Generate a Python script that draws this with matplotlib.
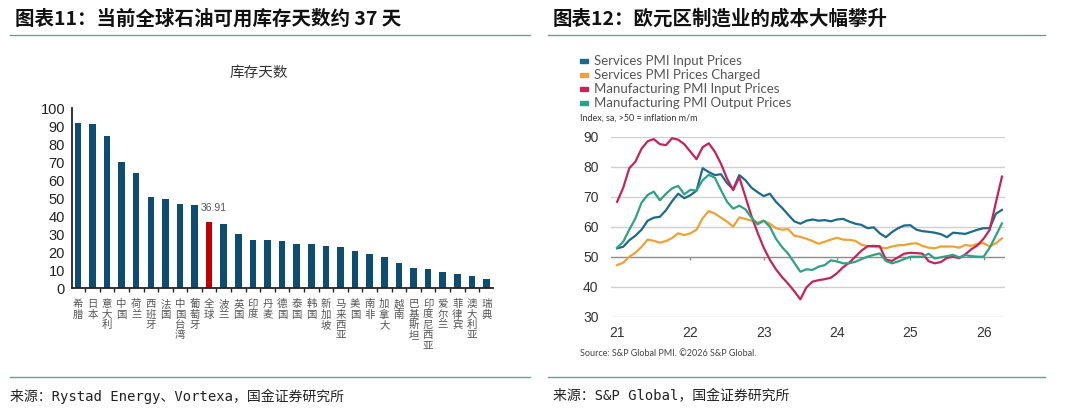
import matplotlib.pyplot as plt
import numpy as np
from matplotlib.lines import Line2D
from matplotlib.patches import Rectangle

plt.rcParams['font.family'] = ['Noto Sans CJK SC', 'DejaVu Sans']

# ---- left: oil stock days ----
countries = ["希腊", "日本", "意大利", "中国", "荷兰", "西班牙", "法国", "中国台湾", "葡萄牙",
             "全球", "波兰", "英国", "印度", "丹麦", "德国", "泰国", "韩国", "新加坡",
             "马来西亚", "美国", "南非", "加拿大", "越南", "巴基斯坦", "印度尼西亚",
             "爱尔兰", "菲律宾", "澳大利亚", "瑞典"]
days = [91.5, 91.0, 84.2, 70.2, 64.0, 50.5, 49.6, 46.4, 46.2,
        36.91, 35.8, 30.0, 26.8, 26.6, 26.3, 24.6, 24.2, 23.3,
        22.9, 20.7, 18.9, 17.2, 14.1, 10.9, 10.7, 8.9, 7.6, 6.9, 4.8]
highlight = "全球"

# ---- right: euro area PMI prices, monthly from Jan 2021 ----
series_names = ["Services PMI Input Prices", "Services PMI Prices Charged",
                "Manufacturing PMI Input Prices", "Manufacturing PMI Output Prices"]
svc_input = [52.8, 53.3, 55.5, 57.0, 59.0, 62.0, 63.0, 63.3, 65.5, 68.5, 71.0, 69.5,
             70.5, 72.0, 79.5, 78.2, 77.2, 77.5, 74.5, 72.5, 77.2, 75.5, 73.0, 71.5,
             70.2, 71.0, 68.3, 66.3, 64.0, 61.8, 61.0, 62.0, 62.4, 62.0, 62.2, 61.8,
             62.4, 62.6, 61.7, 61.0, 60.6, 59.5, 59.8, 57.8, 56.5, 58.2, 59.5, 60.4,
             60.5, 59.0, 58.5, 58.3, 58.0, 57.5, 56.5, 58.0, 57.8, 57.6, 58.3, 59.0,
             59.5, 59.5, 64.3, 65.6]
svc_charged = [47.2, 48.0, 50.0, 51.3, 53.3, 55.7, 55.3, 54.7, 55.2, 56.2, 57.8, 57.2,
               57.8, 59.0, 62.8, 65.2, 64.4, 63.0, 61.7, 60.0, 63.1, 62.6, 62.0, 61.4,
               62.0, 61.0, 59.5, 59.0, 59.2, 57.0, 56.6, 56.0, 55.2, 54.3, 55.0, 55.7,
               56.3, 55.7, 55.6, 55.3, 54.0, 53.5, 53.3, 53.1, 52.8, 53.4, 53.8, 53.9,
               54.3, 54.5, 53.6, 53.0, 52.8, 53.4, 53.4, 53.4, 53.0, 53.9, 53.6, 54.3,
               54.5, 53.4, 54.5, 56.1]
mfg_input = [68.3, 73.0, 79.5, 81.7, 86.0, 88.5, 89.2, 87.5, 87.2, 89.5, 89.0, 87.5,
             85.0, 82.5, 86.5, 87.8, 85.0, 81.0, 76.0, 72.2, 76.5, 70.0, 63.5, 58.0,
             53.0, 49.0, 45.8, 43.2, 41.0, 38.5, 35.8, 39.8, 41.7, 42.2, 42.5, 43.0,
             44.5, 46.5, 48.0, 50.0, 52.0, 53.5, 53.6, 53.5, 49.0, 48.6, 49.8, 51.0,
             51.3, 51.2, 51.0, 48.5, 47.8, 48.2, 49.6, 50.0, 49.5, 50.8, 52.5, 53.8,
             56.0, 59.0, 68.0, 76.7]
mfg_output = [53.0, 55.0, 59.0, 62.8, 68.0, 70.6, 71.7, 68.8, 71.0, 72.8, 73.6, 70.8,
              72.3, 72.0, 75.5, 77.3, 76.3, 72.2, 68.3, 66.0, 67.0, 65.8, 63.0, 60.8,
              62.0, 60.0, 56.0, 53.2, 51.0, 48.0, 45.0, 45.8, 45.6, 46.7, 47.2, 48.8,
              48.4, 47.8, 47.8, 48.3, 49.2, 50.0, 50.6, 51.1, 48.6, 47.8, 48.4, 49.2,
              50.0, 50.0, 50.0, 51.0, 49.4, 49.8, 50.2, 50.6, 49.8, 50.5, 50.2, 50.0,
              50.0, 53.0, 57.0, 61.1]
year_labels = ["21", "22", "23", "24", "25", "26"]

W, H = 1080, 409
fig = plt.figure(figsize=(W / 100, H / 100), dpi=100)


def fx(px):
    return px / W


def fy(py):
    return 1 - py / H


rule = '#7d9595'
num_font = 'Liberation Sans'
# header titles and rules
fig.text(fx(15), fy(19), "图表11：当前全球石油可用库存天数约 37 天", fontsize=14,
         fontweight='bold', va='center', ha='left', color='#111111')
fig.text(fx(553), fy(19), "图表12：欧元区制造业的成本大幅攀升", fontsize=14,
         fontweight='bold', va='center', ha='left', color='#111111')
for x0, x1 in [(10, 530), (548, 1045)]:
    fig.add_artist(Line2D([fx(x0), fx(x1)], [fy(35), fy(35)], color=rule, lw=1))
    fig.add_artist(Line2D([fx(x0), fx(x1)], [fy(377), fy(377)], color=rule, lw=1))

foot_font = ['DejaVu Sans Mono', 'Noto Sans CJK SC']
fig.text(fx(10), fy(396), "来源：Rystad Energy、Vortexa，国金证券研究所", fontsize=10,
         va='center', family=foot_font, color='#222222')
fig.text(fx(553), fy(396), "来源：S&P Global，国金证券研究所", fontsize=10,
         va='center', family=foot_font, color='#222222')

# ---- left bar chart ----
axL = fig.add_axes([fx(72), fy(288), fx(493 - 72), (288 - 108) / H])
x = np.arange(len(countries))
colors = ['#c00000' if c == highlight else '#0f4c72' for c in countries]
axL.bar(x, days, width=0.45, color=colors)
hi = countries.index(highlight)
axL.annotate(f"{days[hi]:.2f}", (hi, days[hi]), xytext=(3, 6), textcoords='offset points',
             ha='center', va='bottom', fontsize=7.5, color='#555555', family=num_font)
axL.set_xlim(-0.4, len(countries) - 0.55)
axL.set_ylim(0, 100)
axL.set_yticks(range(0, 101, 10))
axL.tick_params(axis='y', length=0, pad=5, labelsize=10.5, labelcolor='#222222')
for t in axL.get_yticklabels():
    t.set_family(num_font)
axL.set_xticks(x, ["\n".join(c) for c in countries], fontsize=7.5, linespacing=1.05,
               color='#555555', va='top')
axL.set_xticks(x[:-1] + 0.5, minor=True)
axL.tick_params(axis='x', which='major', length=0, pad=8)
axL.tick_params(axis='x', which='minor', length=3, width=1, color='#222222')
for s in ['top', 'right']:
    axL.spines[s].set_visible(False)
for s in ['left', 'bottom']:
    axL.spines[s].set_color('#222222')
    axL.spines[s].set_linewidth(1.3)
fig.text(fx(259), fy(73), "库存天数", ha='center', va='center', fontsize=10.5, color='#333333')

# ---- right line chart ----
axR = fig.add_axes([fx(611), fy(316.7), fx(1005 - 611), 180 / H])
m = np.arange(len(svc_input))
line_colors = ['#1d6a8a', '#eea236', '#c4245c', '#2fa285']
for vals, c in zip([svc_input, svc_charged, mfg_input, mfg_output], line_colors):
    axR.plot(m, vals, color=c, lw=1.6, zorder=3)
axR.set_ylim(30, 90)
axR.set_xlim(-1, len(svc_input) - 0.5)
yt = list(range(30, 91, 10))
axR.set_yticks(yt)
for v in yt:
    axR.axhline(v, color='#8c8c8c' if v == 50 else '#d0d0d0', lw=1, zorder=1)
year_pos = [12 * i for i in range(len(year_labels))]
axR.vlines(year_pos[1:], 49.0, 50, color='#8c8c8c', lw=1, zorder=1)
axR.set_xticks(year_pos, year_labels)
axR.tick_params(length=0, labelsize=10, labelcolor='#333333')
axR.tick_params(axis='y', pad=9)
axR.tick_params(axis='x', pad=7)
for t in axR.get_xticklabels() + axR.get_yticklabels():
    t.set_family(num_font)
for s in axR.spines.values():
    s.set_visible(False)

# legend block
for i, (name, c) in enumerate(zip(series_names, line_colors)):
    yc = 61 + 14 * i
    fig.add_artist(Rectangle((fx(580), fy(yc + 2)), fx(8), 4 / H, color=c,
                             transform=fig.transFigure))
    fig.text(fx(594), fy(yc), name, fontsize=9.5, va='center', family='Lato', color='#555555')
fig.text(fx(580), fy(118), "Index, sa, >50 = inflation m/m", fontsize=6.5, va='center',
         family='Lato', color='#333333')
fig.text(fx(580), fy(353), "Source: S&P Global PMI. ©2026 S&P Global.", fontsize=6.5,
         va='center', family='Lato', color='#444444')

fig.savefig("out.png", dpi=100)
